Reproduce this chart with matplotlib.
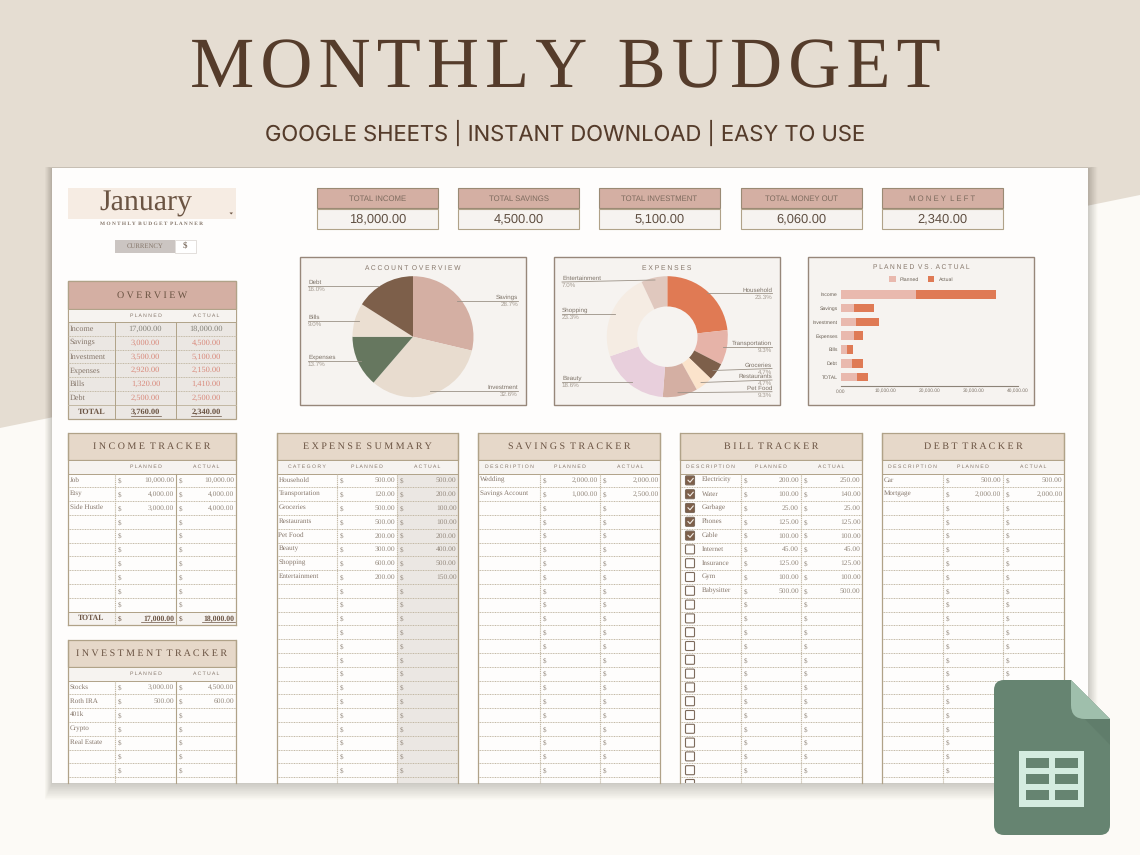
import matplotlib
matplotlib.use('Agg')
import matplotlib.pyplot as plt
from matplotlib.patches import Rectangle, Polygon, FancyBboxPatch, PathPatch
from matplotlib.path import Path

plt.rcParams['text.hinting'] = 'no_hinting'

SERIF = 'Liberation Serif'
SANS = 'Liberation Sans'

# summary boxes
kpi_names = ['TOTAL INCOME', 'TOTAL SAVINGS', 'TOTAL INVESTMENT', 'TOTAL MONEY OUT', 'M O N E Y  L E F T']
kpi_values = [18000, 4500, 5100, 6060, 2340]

# overview table, also used by the bar chart
overview_names = ['Income', 'Savings', 'Investment', 'Expenses', 'Bills', 'Debt', 'TOTAL']
overview_planned = [17000, 3000, 3500, 2920, 1320, 2500, 3760]
overview_actual = [18000, 4500, 5100, 2150, 1410, 2500, 2340]

# pie
account_names = ['Savings', 'Investment', 'Expenses', 'Bills', 'Debt']
account_share = [28.7, 32.6, 13.7, 9.0, 16.0]
account_colors = ['#d4afa3', '#e8dccf', '#66775f', '#ebdfd2', '#7d5f4a']

# donut
expense_names = ['Household', 'Transportation', 'Groceries', 'Restaurants', 'Pet Food',
                 'Beauty', 'Shopping', 'Entertainment']
expense_share = [23.3, 9.3, 4.7, 4.7, 9.3, 18.6, 23.3, 7.0]
expense_colors = ['#e07a54', '#e6b3a8', '#7d5f4a', '#fbe3cb', '#d4afa3', '#e8cfdc', '#f5ece3', '#e0c8be']

# trackers
income_names = ['Job', 'Etsy', 'Side Hustle']
income_planned = [10000, 4000, 3000]
income_actual = [10000, 4000, 4000]
invest_names = ['Stocks', 'Roth IRA', '401k', 'Crypto', 'Real Estate']
invest_planned = [3000, 500]
invest_actual = [4500, 600]
expense_planned = [500, 120, 500, 500, 200, 300, 600, 200]
expense_actual = [500, 200, 100, 100, 200, 400, 500, 150]
savings_names = ['Wedding', 'Savings Account']
savings_planned = [2000, 1000]
savings_actual = [2000, 2500]
bill_names = ['Electricity', 'Water', 'Garbage', 'Phones', 'Cable', 'Internet', 'Insurance', 'Gym', 'Babysitter']
bill_planned = [200, 100, 25, 125, 100, 45, 125, 100, 500]
bill_actual = [250, 140, 25, 125, 100, 45, 125, 100, 500]
bills_checked = 5
debt_names = ['Car', 'Mortgage']
debt_planned = [500, 2000]
debt_actual = [500, 2000]

W, H = 1140, 855
BORDER = '#b0a288'
DOT = '#c2b8a4'
BROWN = '#6b5443'
TEXT = '#85766a'
NUM = '#94897d'
ROSE = '#d4afa3'
SAND = '#e6d8c9'
PALE = '#f6f3f0'
STEP = 13.8
BOTTOM = 783

fig = plt.figure(figsize=(W / 100, H / 100), dpi=100, facecolor='#fcfaf6')


def pixel_axes(x0, y0, x1, y1, zorder=1):
    a = fig.add_axes([x0 / W, 1 - y1 / H, (x1 - x0) / W, (y1 - y0) / H], zorder=zorder)
    a.patch.set_alpha(0)
    return a


def overlay(zorder):
    a = pixel_axes(0, 0, W, H, zorder)
    a.set_xlim(0, W)
    a.set_ylim(H, 0)
    a.axis('off')
    return a


ax = overlay(0)
top = overlay(10)


def spaced(s):
    return ' '.join(s)


def box(a, x0, y0, x1, y1, color, edge=None, lw=0.8):
    a.add_patch(Rectangle((x0, y0), x1 - x0, y1 - y0, facecolor=color,
                          edgecolor=edge if edge else 'none', linewidth=lw))


def money(v):
    return f'{v:,.2f}'


# background
ax.add_patch(Polygon([(0, 0), (W, 0), (W, 195), (0, 428)], facecolor='#e5ddd2', edgecolor='none'))
for i in range(24):
    grow = 24 - i
    ax.add_patch(Rectangle((52 - grow * 0.3, 168 - grow * 0.05), 1036 + grow * 0.7, 615 + grow * 0.75,
                           facecolor='#5a5248', alpha=0.012, edgecolor='none'))
box(ax, 52, 168, 1088, BOTTOM, '#fefdfc')
sheet_clip = Rectangle((52, 168), 1036, BOTTOM - 168, transform=ax.transData)

ax.text(565, 87, '\u200a'.join('MONTHLY BUDGET'), family=SERIF, fontsize=52, color='#553c2b', ha='center', va='baseline')
ax.text(565, 133, 'GOOGLE SHEETS | INSTANT DOWNLOAD | EASY TO USE', family='Inter', fontsize=15.8,
        color='#553c2b', ha='center', va='center')

# month block
box(ax, 68, 188, 236, 219, '#f6ece3')
ax.text(146, 203, 'January', family=SERIF, fontsize=21.5, color=BROWN, ha='center', va='center')
ax.add_patch(Polygon([(229.5, 212.5), (233, 212.5), (231.2, 214.5)], facecolor=BROWN, edgecolor='none'))
ax.text(152, 224, spaced('MONTHLY') + '  ' + spaced('BUDGET') + '  ' + spaced('PLANNER'), family=SERIF,
        fontsize=3.9, color=TEXT, ha='center', va='center', weight='bold')
box(ax, 115, 240, 175, 253, '#cbc5c2')
box(ax, 175, 240, 196, 253, '#ffffff', '#dedad6', 0.6)
ax.text(145, 246.5, 'CURRENCY', family=SERIF, fontsize=4.9, color=TEXT, ha='center', va='center')
ax.text(185, 246.5, '$', family=SERIF, fontsize=6.5, color=TEXT, ha='center', va='center', weight='bold')

# summary boxes
kpi_left = [317, 458, 599, 741, 882]
for x, name, val in zip(kpi_left, kpi_names, kpi_values):
    box(ax, x, 188, x + 121, 208.5, ROSE, '#9a8a74', 0.8)
    box(ax, x, 208.5, x + 121, 229, PALE, BORDER, 0.8)
    ax.text(x + 60.5, 198.5, name, family=SANS, fontsize=5.6, color='#7d6b5e', ha='center', va='center')
    ax.text(x + 60.5, 219, money(val), family=SANS, fontsize=9.3, color='#5f4f42', ha='center', va='center')

# overview table
box(ax, 68, 281, 236, 419, '#ebe7e3', BORDER, 0.9)
box(ax, 68, 281, 236, 308.5, ROSE, BORDER, 0.9)
box(ax, 68, 308.5, 236, 322, PALE, BORDER, 0.7)
ax.text(152, 295, spaced('OVERVIEW'), family=SERIF, fontsize=7.2, color=BROWN, ha='center', va='center')
ax.text(145.5, 315.5, spaced('PLANNED'), family=SANS, fontsize=3.7, color=TEXT, ha='center', va='center')
ax.text(206, 315.5, spaced('ACTUAL'), family=SANS, fontsize=3.7, color=TEXT, ha='center', va='center')
for i, (name, p, a_val) in enumerate(zip(overview_names, overview_planned, overview_actual)):
    y = 322 + i * STEP
    mid = y + STEP / 2
    if i:
        ax.plot([68, 236], [y, y], color=DOT, lw=0.7, ls=(0, (1, 0.7)) if i < 6 else '-')
    total = name == 'TOTAL'
    ax.text(92 if total else 69.5, mid, name, family=SERIF, fontsize=5.9, color=TEXT if not total else BROWN,
            ha='center' if total else 'left', va='center', weight='bold' if total else 'normal')
    color = '#d98a7c' if 0 < i < 6 else ('#85837a' if i == 0 else BROWN)
    for cx, v in zip((145.5, 206), (p, a_val)):
        ax.text(cx, mid, money(v), family=SERIF, fontsize=6, color=color, ha='center', va='center',
                weight='bold' if total else 'normal')
        if total:
            ax.plot([cx - 15, cx + 15], [mid + 4, mid + 4], color=BROWN, lw=0.5)
ax.plot([115, 115], [322, 419], color=BORDER, lw=0.7)
ax.plot([176, 176], [322, 419], color=BORDER, lw=0.7)

# chart panels
for x in (300, 554, 808):
    box(ax, x, 257, x + 226, 405, PALE, '#97877a', 1.0)
ax.text(413, 268, spaced('ACCOUNT') + '  ' + spaced('OVERVIEW'), family=SANS, fontsize=4.8, color=TEXT, ha='center', va='center')
ax.text(667, 268, spaced('EXPENSES'), family=SANS, fontsize=4.9, color=TEXT, ha='center', va='center')
ax.text(921, 267.5, spaced('PLANNED') + '  ' + spaced('VS.') + '  ' + spaced('ACTUAL'), family=SANS, fontsize=4.8, color=TEXT, ha='center', va='center')

# pie
pie_ax = pixel_axes(413 - 60.5, 336.7 - 60.5, 413 + 60.5, 336.7 + 60.5, 2)
pie_ax.pie(account_share, colors=account_colors, startangle=90, counterclock=False, radius=1)
pie_ax.set_xlim(-1, 1)
pie_ax.set_ylim(-1, 1)

# donut
donut_ax = pixel_axes(667.3 - 60.5, 336.7 - 60.5, 667.3 + 60.5, 336.7 + 60.5, 2)
donut_ax.pie(expense_share, colors=expense_colors, startangle=90, counterclock=False, radius=1,
             wedgeprops={'width': 0.5})
donut_ax.set_xlim(-1, 1)
donut_ax.set_ylim(-1, 1)


def callout(name, share, x0, y0, x1, y1, side):
    top.plot([x0, x1], [y0, y1], color='#9a9186', lw=0.6)
    tx, ha = (x1, 'right') if side == 'r' else (x0, 'left')
    ty = y1 if side == 'r' else y0
    top.text(tx, ty - 3.6, name, family=SANS, fontsize=4.5, color='#7d7368', ha=ha, va='center')
    top.text(tx, ty + 3.8, f'{share:.1f}%', family=SANS, fontsize=4.5, color='#a59c92', ha=ha, va='center')


account_lines = [(457, 301, 518, 301, 'r'), (430, 391, 518, 391, 'r'), (308, 361, 361, 361, 'l'),
                 (308, 321, 359, 321, 'l'), (308, 286, 378, 286, 'l')]
for name, share, seg in zip(account_names, account_share, account_lines):
    callout(name, share, *seg)
expense_lines = [(707, 293.5, 772, 293.5, 'r'), (723, 347, 772, 347, 'r'), (713, 370.5, 772, 368.5, 'r'),
                 (701, 382.5, 772, 380, 'r'), (678, 392.7, 772, 391.7, 'r'), (562, 382, 632, 382, 'l'),
                 (562, 314, 615, 314, 'l'), (562, 282, 655, 280, 'l')]
for name, share, seg in zip(expense_names, expense_share, expense_lines):
    callout(name, share, *seg)

# stacked bars
bar_ax = pixel_axes(840.7, 287, 1018, 386, 2)
rows = list(range(len(overview_names)))
h1 = bar_ax.barh(rows, overview_planned, height=0.63, color='#e9b9ae', label='Planned')
h2 = bar_ax.barh(rows, overview_actual, left=overview_planned, height=0.63, color='#df7a55', label='Actual')
bar_ax.set_xlim(0, 40000)
bar_ax.set_ylim(6.65, -0.53)
bar_ax.set_yticks(rows)
bar_ax.set_yticklabels(overview_names, family=SANS, fontsize=3.7, color='#6b6156')
bar_ax.set_xticks([0, 10000, 20000, 30000, 40000])
bar_ax.set_xticklabels([money(v) for v in (0, 10000, 20000, 30000, 40000)], family=SANS, fontsize=3.5,
                       color='#7d7368')
bar_ax.tick_params(length=0, pad=2.2)
for side in ('top', 'right', 'left'):
    bar_ax.spines[side].set_visible(False)
bar_ax.spines['bottom'].set_color('#8c8378')
bar_ax.spines['bottom'].set_linewidth(0.8)
fig.legend(handles=[h1, h2], loc='center', bbox_to_anchor=(921 / W, 1 - 278.7 / H), ncol=2, frameon=False,
           prop={'family': SANS, 'size': 3.8}, labelcolor='#6b6156', handlelength=1.3, handleheight=1.3,
           columnspacing=1.6, handletextpad=0.8)


def tracker(x0, x1, col1, col2, y0, title, names, planned, actual, total=None, heads=True, shade=False,
            checks=None, solid=False):
    head_end = y0 + 27
    sub_end = head_end + 13.5
    end = sub_end + 11 * STEP if total else BOTTOM
    box(ax, x0, y0, x1, end, '#fefdfc')
    if shade:
        box(ax, col2, sub_end, x1, end, '#ebe7e3')
    box(ax, x0, y0, x1, head_end, SAND, BORDER, 0.9)
    box(ax, x0, head_end, x1, sub_end, PALE, BORDER, 0.7)
    ax.text((x0 + x1) / 2, y0 + 13.5, '  '.join(spaced(w) for w in title.split()), family=SERIF, fontsize=7.2,
            color=BROWN, ha='center', va='center')
    mid_h = (head_end + sub_end) / 2
    if heads:
        ax.text((x0 + col1) / 2, mid_h, spaced(heads), family=SANS, fontsize=3.7, color=TEXT, ha='center', va='center')
    ax.text((col1 + col2) / 2, mid_h, spaced('PLANNED'), family=SANS, fontsize=3.7, color=TEXT, ha='center', va='center')
    ax.text((col2 + x1) / 2, mid_h, spaced('ACTUAL'), family=SANS, fontsize=3.7, color=TEXT, ha='center', va='center')

    i = 0
    while sub_end + i * STEP < end - 1:
        y = sub_end + i * STEP
        mid = y + STEP / 2
        is_total = total is not None and i == 10
        if i:
            ax.plot([x0, x1], [y, y], color=DOT if not is_total else BORDER, lw=0.7,
                    ls='-' if is_total else (0, (1, 0.7)))
        if is_total:
            box(ax, x0, y, x1, end, PALE, BORDER, 0.7)
            ax.text((x0 + col1) / 2, mid, 'TOTAL', family=SERIF, fontsize=5.6, color=BROWN, weight='bold',
                    ha='center', va='center')
            for c, r, v in zip((col1, col2), (col2 - 2, x1 - 1.5), total):
                ax.text(c + 3, mid, '$', family=SERIF, fontsize=5.2, color=BROWN, va='center')
                ax.text(r, mid, money(v), family=SERIF, fontsize=5.6, color=BROWN, weight='bold', ha='right', va='center')
                ax.plot([r - 33, r], [mid + 3.8, mid + 3.8], color=BROWN, lw=0.5)
        else:
            text_x = x0 + 1.5
            if checks is not None:
                text_x = x0 + 22
                checked = i < checks
                mark = FancyBboxPatch((x0 + 6, mid - 4), 8, 8, boxstyle='round,pad=0.5,rounding_size=1',
                                      facecolor='#7d5f4a' if checked else '#fefdfc', edgecolor='#7d6b5c', linewidth=0.8)
                ax.add_patch(mark)
                mark.set_clip_path(sheet_clip)
                if checked:
                    ax.plot([x0 + 8, x0 + 10, x0 + 13.2], [mid - 0.2, mid + 1.8, mid - 2], color='#f3eee8', lw=0.8)
            if mid < end - 2:
                if i < len(names):
                    ax.text(text_x, mid - 0.3, names[i], family=SERIF, fontsize=5.1, color=TEXT, va='center')
                ax.text(col1 + 3, mid + 0.6, '$', family=SERIF, fontsize=5.1, color=NUM, va='center')
                ax.text(col2 + 3, mid + 0.6, '$', family=SERIF, fontsize=5.1, color=NUM, va='center')
                if i < len(planned):
                    ax.text(col2 - 2, mid + 0.3, money(planned[i]), family=SERIF, fontsize=5.4, color=NUM, ha='right', va='center')
                if i < len(actual):
                    ax.text(x1 - 1.5, mid + 0.3, money(actual[i]), family=SERIF, fontsize=5.4, color=NUM, ha='right', va='center')
        i += 1
    ax.plot([col1, col1], [sub_end, end], color=DOT, lw=0.8, ls=(0, (1, 0.7)))
    ax.plot([col2, col2], [sub_end, end], color=BORDER if solid else DOT, lw=0.8, ls='-' if solid else (0, (1, 0.7)))
    ax.plot([x0, x0], [y0, end], color=BORDER, lw=0.9)
    ax.plot([x1, x1], [y0, end], color=BORDER, lw=0.9)
    if total:
        ax.plot([x0, x1], [end, end], color=BORDER, lw=0.9)


tracker(68, 236, 115, 176, 433, 'INCOME TRACKER', income_names, income_planned, income_actual,
        total=(overview_planned[0], overview_actual[0]), heads=None, solid=True)
tracker(68, 236, 115, 176, 640, 'INVESTMENT TRACKER', invest_names, invest_planned, invest_actual, heads=None, solid=True)
tracker(277, 458, 337, 397, 433, 'EXPENSE SUMMARY', expense_names, expense_planned, expense_actual,
        heads='CATEGORY', shade=True)
tracker(478, 660, 540, 600, 433, 'SAVINGS TRACKER', savings_names, savings_planned, savings_actual, heads='DESCRIPTION')
tracker(680, 862, 741, 801, 433, 'BILL TRACKER', bill_names, bill_planned, bill_actual, heads='DESCRIPTION', checks=bills_checked)
tracker(882, 1064, 943, 1003, 433, 'DEBT TRACKER', debt_names, debt_planned, debt_actual, heads='DESCRIPTION')

# sheets icon
MOVE, LINE, CURVE = Path.MOVETO, Path.LINETO, Path.CURVE3
body = Path([(1004, 680), (1071, 680), (1110, 719), (1110, 825), (1110, 835), (1100, 835), (1004, 835),
             (994, 835), (994, 825), (994, 690), (994, 680), (1004, 680), (1004, 680)],
            [MOVE, LINE, LINE, LINE, CURVE, CURVE, LINE, CURVE, CURVE, LINE, CURVE, CURVE, Path.CLOSEPOLY])
top.add_patch(PathPatch(body, facecolor='#668471', edgecolor='none'))
top.add_patch(Polygon([(1071, 705), (1086, 719), (1110, 719), (1110, 745)], facecolor='#5c7867', edgecolor='none', alpha=0.5))
fold = Path([(1071, 680), (1110, 719), (1085, 719), (1071, 719), (1071, 705), (1071, 680)],
            [MOVE, LINE, LINE, CURVE, CURVE, Path.CLOSEPOLY])
top.add_patch(PathPatch(fold, facecolor='#9fbfac', edgecolor='none'))
box(top, 1019.3, 751, 1084.3, 806.7, '#d4ece0')
for cx in (1026, 1055.3):
    for cy in (758, 774, 790):
        box(top, cx, cy, cx + 22.5, cy + 9.5, '#668471')

fig.savefig('out.png', dpi=100, facecolor=fig.get_facecolor())
